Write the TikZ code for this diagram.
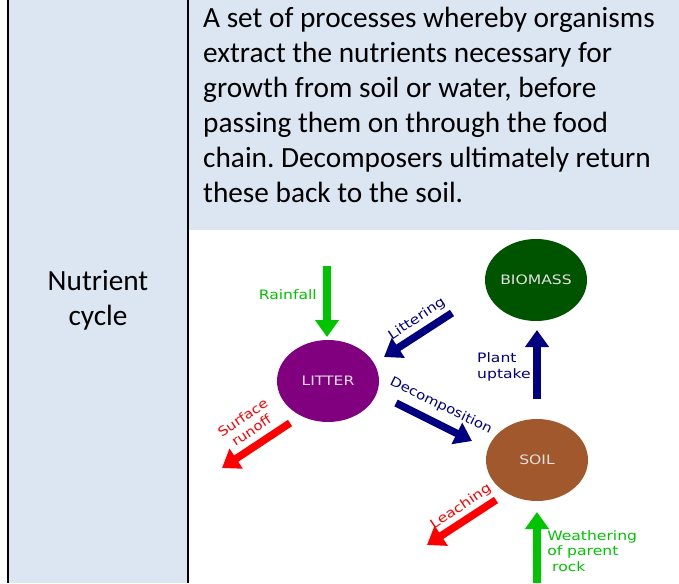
\documentclass[tikz,border=0pt]{standalone}
\usepackage{fontspec}
\setmainfont{Carlito}
\newfontfamily\diagfont{DejaVu Sans}
\usetikzlibrary{arrows.meta,shapes.geometric}
\definecolor{cellblue}{RGB}{220,230,242}
\definecolor{flowgreen}{RGB}{0,196,0}
\definecolor{flownavy}{RGB}{0,0,128}
\definecolor{flowred}{RGB}{255,0,0}
\definecolor{litterpurple}{RGB}{128,0,128}
\definecolor{biomassgreen}{RGB}{0,84,0}
\definecolor{soilbrown}{RGB}{160,88,44}
\tikzset{
	pool/.style={ellipse,minimum width=102pt,minimum height=82pt,inner sep=0pt,
		text=black!12,font=\diagfont\fontsize{13}{15}\selectfont},
	flow/.style={line width=7.5pt,-{Triangle[width=23pt,length=17pt]}},
	lbl/.style={inner sep=0pt,font=\diagfont\fontsize{13}{15.5}\selectfont},
	celltext/.style={inner sep=0pt,font=\fontsize{29.3}{35}\selectfont}
}
\frenchspacing

\begin{document}
\begin{tikzpicture}[x=1pt,y=-1pt]
	\useasboundingbox (0,0) rectangle (679,583);

	% table cells
	\fill[cellblue] (9,0) rectangle (187,583);
	\fill[cellblue] (189,0) rectangle (679,230);
	\draw[line width=2pt] (8,0) -- (8,583);
	\draw[line width=2pt] (188,0) -- (188,583);

	% base anchor sits on the last line
	\node[celltext,anchor=base,align=center] (term) at (98,325) {Nutrient\\cycle};
	\node[celltext,anchor=base west,align=left] (definition) at (203,202)
		{A set of processes whereby organisms\\
		extract the nutrients necessary for\\
		growth from soil or water, before\\
		passing them on through the food\\
		chain. Decomposers ultimately return\\
		these back to the soil.};

	% the three pools
	\node[pool,fill=biomassgreen] (biomass) at (536,280) {\scalebox{1.2}[1]{BIOMASS}};
	\node[pool,fill=litterpurple] (litter) at (328,381) {\scalebox{1.2}[1]{LITTER}};
	\node[pool,fill=soilbrown] (soil) at (537,460) {\scalebox{1.2}[1]{SOIL}};

	% arrow ends
	\coordinate (rainTop) at (327,266);
	\coordinate (rainTip) at (327,337);
	\coordinate (litFrom) at (452,313);
	\coordinate (litTo) at (384,357);
	\coordinate (decFrom) at (396,403);
	\coordinate (decTo) at (472,441);
	\coordinate (upFrom) at (537,399);
	\coordinate (upTo) at (537,330);
	\coordinate (runFrom) at (290,423);
	\coordinate (runTo) at (222,468);
	\coordinate (leachFrom) at (496,500);
	\coordinate (leachTo) at (427,545);
	\coordinate (rockFrom) at (537,583);
	\coordinate (rockTo) at (537,512);

	\draw[flow,flowgreen] (rainTop) -- (rainTip);
	\draw[flow,flownavy] (litFrom) -- (litTo);
	\draw[flow,flownavy] (decFrom) -- (decTo);
	\draw[flow,flownavy] (upFrom) -- (upTo);
	\draw[flow,flowred] (runFrom) -- (runTo);
	\draw[flow,flowred] (leachFrom) -- (leachTo);
	\draw[flow,flowgreen] (rockFrom) -- (rockTo);

	% labels
	\node[lbl,text=flowgreen,anchor=base east,xscale=1.2] (rainLbl) at (317,299) {Rainfall};
	\node[lbl,text=flownavy,rotate=34,xscale=1.2] (litLbl) at (417,319) {Littering};
	\node[lbl,text=flownavy,rotate=-26,xscale=1.15] (decLbl) at (441,406) {Decomposition};
	\node[lbl,text=flownavy,anchor=base west,align=left,xscale=1.2] (upLbl) at (477,378) {Plant\\uptake};
	\node[lbl,text=flowred,rotate=34,align=center,xscale=1.15] (runLbl) at (247,424) {Surface\\runoff};
	\node[lbl,text=flowred,rotate=34,xscale=1.2] (leachLbl) at (461,507) {Leaching};
	\node[lbl,text=flowgreen,anchor=base west,align=left,xscale=1.2] (rockLbl) at (547,571) {Weathering\\of parent\\\ rock};
\end{tikzpicture}
\end{document}
